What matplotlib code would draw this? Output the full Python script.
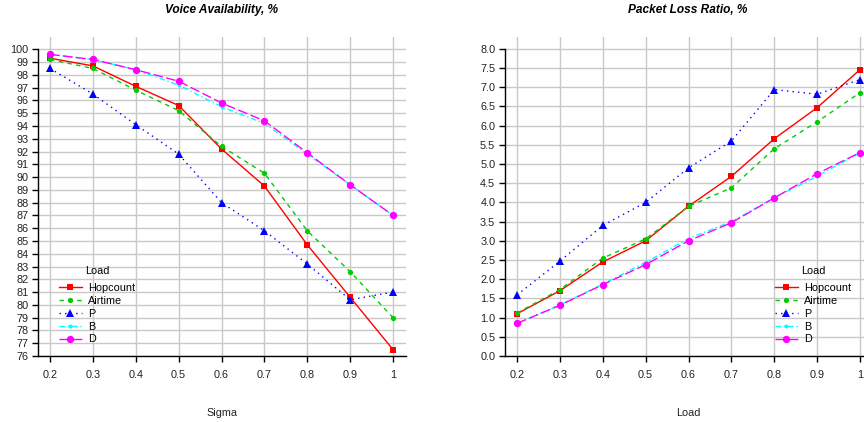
import matplotlib
matplotlib.use("Agg")
import matplotlib.pyplot as plt

plt.rcParams['font.family'] = ['Liberation Sans', 'DejaVu Sans']

x = [0.2, 0.3, 0.4, 0.5, 0.6, 0.7, 0.8, 0.9, 1.0]
x_ticklabels = ['0.2', '0.3', '0.4', '0.5', '0.6', '0.7', '0.8', '0.9', '1']
series_names = ['Hopcount', 'Airtime', 'P', 'B', 'D']

voice_hopcount = [99.3, 98.7, 97.1, 95.6, 92.2, 89.3, 84.7, 80.6, 76.5]
voice_airtime = [99.2, 98.5, 96.8, 95.2, 92.4, 90.3, 85.8, 82.6, 79.0]
voice_p = [98.5, 96.5, 94.1, 91.8, 88.0, 85.8, 83.2, 80.4, 81.0]
voice_b = [99.6, 99.2, 98.4, 97.2, 95.5, 94.2, 91.8, 89.4, 87.0]
voice_d = [99.6, 99.2, 98.4, 97.5, 95.8, 94.4, 91.9, 89.4, 87.0]

loss_hopcount = [1.1, 1.7, 2.45, 3.0, 3.9, 4.68, 5.66, 6.47, 7.46]
loss_airtime = [1.12, 1.73, 2.55, 3.05, 3.9, 4.38, 5.4, 6.1, 6.86]
loss_p = [1.59, 2.47, 3.4, 4.0, 4.9, 5.6, 6.94, 6.82, 7.2]
loss_b = [0.85, 1.33, 1.87, 2.44, 3.06, 3.5, 4.12, 4.68, 5.3]
loss_d = [0.85, 1.32, 1.86, 2.38, 3.0, 3.47, 4.12, 4.75, 5.3]

voice_yticks = list(range(76, 101))
loss_yticks = [i * 0.5 for i in range(17)]

styles = [
    dict(color='#ff0000', linestyle='-', marker='s', markersize=4.8),
    dict(color='#00cc00', linestyle=(0, (3.2, 3.2)), marker='o', markersize=3.8),
    dict(color='#0000ff', linestyle=(0, (1, 3)), marker='^', markersize=5.3),
    dict(color='#00ffff', linestyle=(0, (4, 2, 1, 2)), marker='o', markersize=2.8),
    dict(color='#ff00ff', linestyle=(0, (7, 2.5)), marker='o', markersize=5.3),
]

fig = plt.figure(figsize=(8.64, 4.22), dpi=100)
ax1 = fig.add_axes([38/864, 66/422, 368/864, 319/422])
ax2 = fig.add_axes([505/864, 66/422, 359/864, 319/422])

def setup(ax, data, yticks, ylim, xlim, yfmt, legend_anchor):
    for vals, name, st in zip(data, series_names, styles):
        ax.plot(x, vals, label=name, linewidth=1.0, markeredgewidth=0, zorder=3, **st)
    ax.set_xlim(*xlim)
    ax.set_ylim(*ylim)
    ax.set_xticks(x)
    ax.set_xticklabels(x_ticklabels)
    ax.set_yticks(yticks)
    ax.set_yticklabels([yfmt(v) for v in yticks])
    for v in yticks:
        ax.axhline(v, color='#c8c8c8', linewidth=1.0, zorder=1)
    for v in x:
        ax.axvline(v, color='#c8c8c8', linewidth=1.0, zorder=1)
    for s in ['top', 'right']:
        ax.spines[s].set_visible(False)
    ax.spines['left'].set_bounds(yticks[0], yticks[-1])
    ax.spines['left'].set_linewidth(1.0)
    ax.spines['bottom'].set_linewidth(1.0)
    ax.tick_params(axis='both', labelsize=7.8, colors='black', length=4, width=1.0, pad=3,
                   labelcolor='#222222')
    ax.tick_params(axis='x', pad=6)
    leg = ax.legend(title='Load', frameon=False, fontsize=7.8, title_fontsize=7.8,
                    loc='center', bbox_to_anchor=legend_anchor, bbox_transform=fig.transFigure,
                    handlelength=2.2, labelspacing=0.26, handletextpad=0.55)
    leg._legend_box.sep = 5.5

setup(ax1, [voice_hopcount, voice_airtime, voice_p, voice_b, voice_d], voice_yticks,
      (76, 100.96), (0.172, 1.0303), lambda v: str(v), (97/864, 1 - 305/422))
setup(ax2, [loss_hopcount, loss_airtime, loss_p, loss_b, loss_d], loss_yticks,
      (0, 8.31), (0.172, 1.0093), lambda v: f'{v:.1f}', (813/864, 1 - 305/422))

fig.text(222/864, 1 - 10/422, 'Voice Availability, %', fontsize=8.6, fontweight='bold',
         fontstyle='italic', ha='center', va='center')
fig.text(688/864, 1 - 10/422, 'Packet Loss Ratio, %', fontsize=8.6, fontweight='bold',
         fontstyle='italic', ha='center', va='center')
fig.text(222/864, 1 - 413/422, 'Sigma', fontsize=7.8, ha='center', va='center', color='#222222')
fig.text(688/864, 1 - 413/422, 'Load', fontsize=7.8, ha='center', va='center', color='#222222')

fig.savefig('out.png', dpi=100)
